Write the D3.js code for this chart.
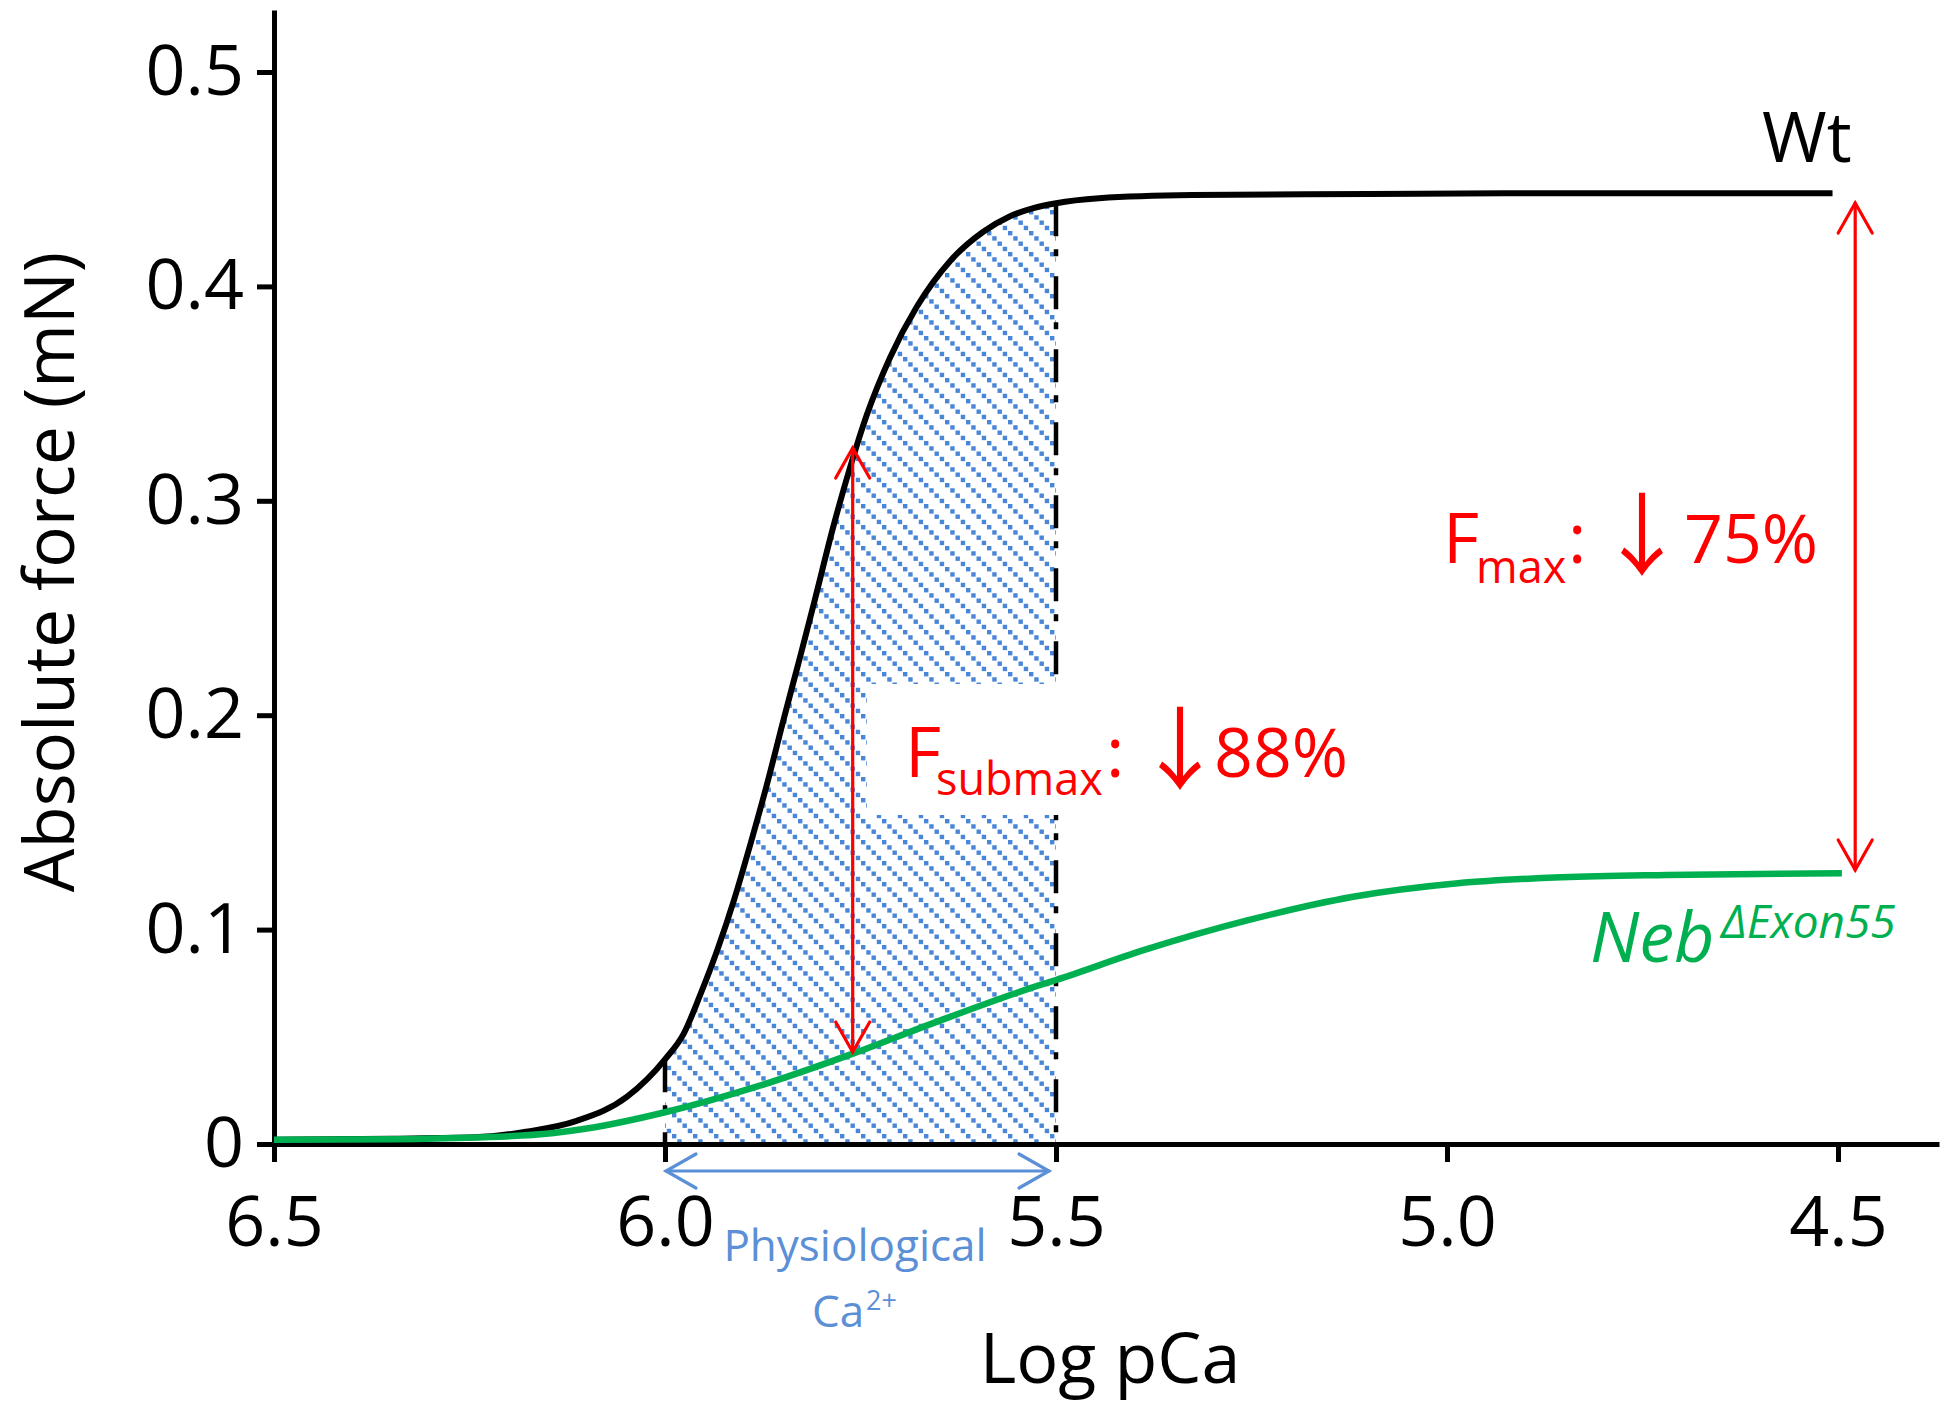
<!DOCTYPE html>
<html><head><meta charset="utf-8">
<script src="https://cdn.jsdelivr.net/npm/d3@7"></script>
<style>html,body{margin:0;padding:0;background:#fff;} svg{display:block;}</style>
</head><body><svg id="chart" width="1950" height="1407"></svg>
<script>
// ---------- data ----------
const pCaTicks = [6.5, 6.0, 5.5, 5.0, 4.5];
const forceTicks = [0, 0.1, 0.2, 0.3, 0.4, 0.5];

const wtPCa   = [6.5, 6.35, 6.243, 6.178, 6.113, 6.048, 6.0, 5.976, 5.955, 5.933, 5.912, 5.891, 5.870, 5.848, 5.827, 5.810, 5.784, 5.763, 5.742, 5.712, 5.678, 5.635, 5.593, 5.560, 5.529, 5.5, 5.445, 5.326, 5.1, 4.927, 4.507];
const wtForce = [0.002, 0.0025, 0.0031, 0.0057, 0.0108, 0.0222, 0.0395, 0.0515, 0.0695, 0.0906, 0.1135, 0.1396, 0.1672, 0.1985, 0.2275, 0.2515, 0.2890, 0.3160, 0.3400, 0.3670, 0.3905, 0.4120, 0.4255, 0.4325, 0.4365, 0.4388, 0.4411, 0.4426, 0.4431, 0.4434, 0.4434];

const nebPCa   = [6.5, 6.35, 6.243, 6.145, 6.1, 6.0, 5.885, 5.758, 5.657, 5.52, 5.5, 5.387, 5.253, 5.12, 4.986, 4.853, 4.719, 4.495];
const nebForce = [0.002, 0.0022, 0.003, 0.005, 0.0072, 0.0148, 0.0265, 0.0424, 0.0564, 0.0742, 0.0765, 0.0905, 0.1045, 0.1153, 0.1216, 0.1244, 0.1255, 0.1263];

const physRange = [6.0, 5.5];                 // physiological Ca2+ window (pCa)
const fsubmaxArrow = [5.760, 0.0429, 0.3246]; // pCa, bottom, top
const fmaxArrow    = [4.478, 0.1278, 0.4389]; // pCa, bottom, top

// ---------- layout ----------
const svg = d3.select("#chart");
svg.append("rect").attr("width",1950).attr("height",1407).attr("fill","#fff");
const FONT = "'Open Sans', 'DejaVu Sans', sans-serif";
const ARROWFONT = "'Noto Sans CJK JP', 'DejaVu Sans', sans-serif";
const RED = "#ff0000", GREEN = "#00b050", BLUE = "#5b8fd6", HATCH = "#4a86d8";

const x = d3.scaleLinear().domain([6.5, 4.5]).range([274, 1838]);
const y = d3.scaleLinear().domain([0, 0.5]).range([1144, 72]);
const xEnd = x.invert(1939), yTop = y.invert(10);

const wt = wtPCa.map((p,i)=>({p, f: wtForce[i]}));
const neb = nebPCa.map((p,i)=>({p, f: nebForce[i]}));

// hatch pattern: dotted diagonal stripes (down-right)
const defs = svg.append("defs");
const T = 21, N = 4;
const pat = defs.append("pattern").attr("id","hatch").attr("patternUnits","userSpaceOnUse")
  .attr("width",T).attr("height",T);
d3.range(N).forEach(k => {
  pat.append("rect").attr("x",k*T/N).attr("y",k*T/N).attr("width",4.4).attr("height",4.4).attr("fill",HATCH);
});

// hatched region under Wt between 6.0 and 5.5
const inWin = wt.filter(d => d.p <= physRange[0] && d.p >= physRange[1]);
const area = d3.area().x(d=>x(d.p)).y0(y(0)).y1(d=>y(d.f)).curve(d3.curveMonotoneX);
svg.append("path").datum(inWin).attr("d", area).attr("fill","url(#hatch)");

// dashed boundaries
const wtAt = d3.scaleLinear().domain(wtPCa).range(wtForce);
physRange.forEach(p => {
  svg.append("line").attr("x1",x(p)).attr("x2",x(p)).attr("y1",y(wtAt(p))).attr("y2",y(0))
    .attr("stroke","#000").attr("stroke-width",4.5).attr("stroke-dasharray","33 13 7 20");
});

// axes
const xAxis = d3.axisBottom(d3.scaleLinear().domain([6.5, xEnd]).range([x(6.5), 1939]))
  .tickValues(pCaTicks).tickFormat(d3.format(".1f")).tickSize(18).tickSizeOuter(0).tickPadding(34);
const gx = svg.append("g").attr("transform",`translate(0,${y(0)})`).call(xAxis);
const yAxis = d3.axisLeft(d3.scaleLinear().domain([0, yTop]).range([y(0), 10]))
  .tickValues(forceTicks).tickFormat(d => d === 0 ? "0" : d3.format(".1f")(d)).tickSize(17).tickSizeOuter(0).tickPadding(13);
const gy = svg.append("g").attr("transform",`translate(${x(6.5)},0)`).call(yAxis);
[gx, gy].forEach(g => {
  g.select(".domain").attr("stroke","#000").attr("stroke-width",5);
  g.selectAll(".tick line").attr("stroke","#000").attr("stroke-width",5);
  g.selectAll(".tick text").attr("fill","#000").style("font-family",FONT).style("font-size","70px");
});

// curves
const line = d3.line().x(d=>x(d.p)).y(d=>y(d.f)).curve(d3.curveMonotoneX);
svg.append("path").datum(wt).attr("d",line).attr("fill","none").attr("stroke","#000").attr("stroke-width",6);
svg.append("path").datum(neb).attr("d",line).attr("fill","none").attr("stroke",GREEN).attr("stroke-width",6.5);

// Fsubmax label with white background box
const sub = svg.append("g");
sub.append("rect").attr("fill","#fff").attr("x",867).attr("y",684).attr("width",500).attr("height",131);
const t1 = sub.append("text").attr("fill",RED).style("font-family",FONT);
t1.append("tspan").attr("x",905).attr("y",777).style("font-size","70px").text("F");
t1.append("tspan").attr("x",936).attr("y",795).style("font-size","45px").text("submax");
t1.append("tspan").attr("x",1106).attr("y",777).style("font-size","70px").text(":");
t1.append("tspan").attr("x",1135).attr("y",782).style("font-size","90px").style("font-family",ARROWFONT).text("↓");
t1.append("tspan").attr("x",1214).attr("y",777).style("font-size","68px").text("88%");

// arrows
function vArrow(px, fBot, fTop, color){
  const X = x(px), Y1 = y(fBot), Y2 = y(fTop);
  const g = svg.append("g").attr("fill","none").attr("stroke",color).attr("stroke-width",3.2).attr("stroke-linecap","round");
  g.append("line").attr("x1",X).attr("x2",X).attr("y1",Y1).attr("y2",Y2);
  g.append("path").attr("d",`M${X-17},${Y2+30}L${X},${Y2}L${X+17},${Y2+30}`);
  g.append("path").attr("d",`M${X-17},${Y1-30}L${X},${Y1}L${X+17},${Y1-30}`);
}
vArrow(fsubmaxArrow[0], fsubmaxArrow[1], fsubmaxArrow[2], RED);
vArrow(fmaxArrow[0], fmaxArrow[1], fmaxArrow[2], RED);

// physiological range arrow
{
  const X1 = x(physRange[0]) + 1, X2 = x(physRange[1]) - 7, Yp = 1171;
  const g = svg.append("g").attr("fill","none").attr("stroke",BLUE).attr("stroke-width",3.2).attr("stroke-linecap","round");
  g.append("line").attr("x1",X1).attr("x2",X2).attr("y1",Yp).attr("y2",Yp);
  g.append("path").attr("d",`M${X1+30},${Yp-17}L${X1},${Yp}L${X1+30},${Yp+17}`);
  g.append("path").attr("d",`M${X2-30},${Yp-17}L${X2},${Yp}L${X2-30},${Yp+17}`);
}
svg.append("text").attr("x",855).attr("y",1261).attr("text-anchor","middle").attr("fill",BLUE)
  .style("font-family",FONT).style("font-size","44px").text("Physiological");
const ca = svg.append("text").attr("fill",BLUE).style("font-family",FONT);
ca.append("tspan").attr("x",812).attr("y",1327).style("font-size","44px").text("Ca");
ca.append("tspan").attr("x",866).attr("y",1310).style("font-size","27px").text("2+");

// Fmax label
const t2 = svg.append("text").attr("fill",RED).style("font-family",FONT);
t2.append("tspan").attr("x",1443).attr("y",563).style("font-size","70px").text("F");
t2.append("tspan").attr("x",1476).attr("y",583).style("font-size","45px").text("max");
t2.append("tspan").attr("x",1568).attr("y",563).style("font-size","70px").text(":");
t2.append("tspan").attr("x",1597).attr("y",568).style("font-size","90px").style("font-family",ARROWFONT).text("↓");
t2.append("tspan").attr("x",1684).attr("y",563).style("font-size","68px").text("75%");

// series labels
svg.append("text").attr("x",1762).attr("y",162).attr("fill","#000").style("font-family",FONT).style("font-size","70px").text("Wt");
const nb = svg.append("text").attr("fill",GREEN).style("font-family",FONT).style("font-style","italic");
nb.append("tspan").attr("x",1590).attr("y",962).style("font-size","70px").text("Neb");
nb.append("tspan").attr("x",1721).attr("y",938).style("font-size","46px").text("ΔExon55");

// axis titles
svg.append("text").attr("transform","translate(74,572) rotate(-90)").attr("text-anchor","middle")
  .attr("fill","#000").style("font-family",FONT).style("font-size","69px").text("Absolute force (mN)");
svg.append("text").attr("x",1110).attr("y",1383).attr("text-anchor","middle")
  .attr("fill","#000").style("font-family",FONT).style("font-size","70px").text("Log pCa");
</script></body></html>
